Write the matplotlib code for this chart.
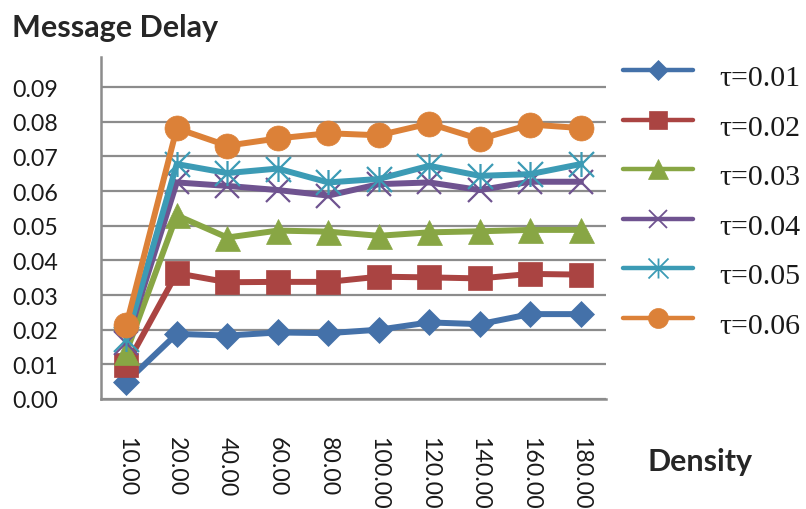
import matplotlib
matplotlib.use("Agg")
import matplotlib.pyplot as plt
from matplotlib.lines import Line2D
from matplotlib.path import Path
from matplotlib.transforms import ScaledTranslation

# ---- data -------------------------------------------------------------
density_labels = ["10.00", "20.00", "40.00", "60.00", "80.00",
                  "100.00", "120.00", "140.00", "160.00", "180.00"]
series_names = ["τ=0.01", "τ=0.02", "τ=0.03", "τ=0.04", "τ=0.05", "τ=0.06"]
tau_001 = [0.0049, 0.0188, 0.0183, 0.0192, 0.0190, 0.0200, 0.0221, 0.0216, 0.0245, 0.0245]
tau_002 = [0.0097, 0.0363, 0.0337, 0.0338, 0.0338, 0.0353, 0.0351, 0.0348, 0.0361, 0.0359]
tau_003 = [0.0135, 0.0530, 0.0466, 0.0486, 0.0483, 0.0471, 0.0481, 0.0484, 0.0488, 0.0488]
tau_004 = [0.0163, 0.0625, 0.0615, 0.0603, 0.0587, 0.0620, 0.0625, 0.0603, 0.0627, 0.0627]
tau_005 = [0.0172, 0.0678, 0.0652, 0.0665, 0.0625, 0.0635, 0.0673, 0.0644, 0.0649, 0.0678]
tau_006 = [0.0213, 0.0781, 0.0731, 0.0752, 0.0767, 0.0761, 0.0795, 0.0750, 0.0792, 0.0782]
y_ticks = [0.00, 0.01, 0.02, 0.03, 0.04, 0.05, 0.06, 0.07, 0.08, 0.09]

all_series = [tau_001, tau_002, tau_003, tau_004, tau_005, tau_006]

# ---- styling ----------------------------------------------------------
colors = ["#4471A9", "#AA4442", "#88A644", "#6F5390", "#3C9BB5", "#DC8138"]
star = Path([(0, -1), (0, 1), (-1, -1), (1, 1), (-1, 1), (1, -1)],
            [Path.MOVETO, Path.LINETO, Path.MOVETO, Path.LINETO,
             Path.MOVETO, Path.LINETO])
markers = ["D", "s", "^", "x", star, "o"]
msizes = [13, 17, 18, 17, 18, 18]
grid_grey = "#8C8C8C"
sans = "Lato"
serif = "Liberation Serif"

W, H = 806, 510
fig = plt.figure(figsize=(W / 100, H / 100), dpi=100)

def fx(px):
    return px / W

def fy(py):
    return 1 - py / H

ax_left, ax_right, ax_top, ax_bottom = 101, 606, 58, 400
ax = fig.add_axes([fx(ax_left), fy(ax_bottom),
                   fx(ax_right - ax_left), (ax_bottom - ax_top) / H])

xs = list(range(len(density_labels)))
for vals, c, m, ms in zip(all_series, colors, markers, msizes):
    thin = m in ("x",) or m is star
    ax.plot(xs, vals, color=c, lw=4.3, marker=m, markersize=ms,
            markerfacecolor=c, markeredgecolor=c,
            markeredgewidth=1.6 if thin else 0.5,
            solid_joinstyle="round", clip_on=False)

ax.set_xlim(-0.5, len(density_labels) - 0.5)
ax.set_ylim(0, 0.0987)
ax.set_yticks(y_ticks)
ax.set_yticklabels([f"{v:.2f}" for v in y_ticks], fontfamily=sans,
                   fontsize=16.7, color="#1a1a1a")
ax.set_xticks(xs)
ax.set_xticklabels(density_labels, rotation=-90, va="top", ha="center",
                   fontfamily=sans, fontsize=16.7, color="#1a1a1a")
shift = ScaledTranslation(13 / 100, 0, fig.dpi_scale_trans)
for lbl in ax.get_xticklabels():
    lbl.set_transform(lbl.get_transform() + shift)
ax.tick_params(axis="y", length=0, pad=31)
ax.tick_params(axis="x", length=0, pad=27)

ax.yaxis.grid(True, color=grid_grey, lw=1.6)
ax.set_axisbelow(True)
for side in ("top", "right"):
    ax.spines[side].set_visible(False)
for side in ("left", "bottom"):
    ax.spines[side].set_color(grid_grey)
    ax.spines[side].set_linewidth(1.8)

# ---- titles -----------------------------------------------------------
fig.text(fx(12), fy(37), "Message Delay", fontfamily=sans, fontweight="bold",
         fontsize=22, color="#262626", ha="left", va="baseline")
fig.text(fx(647), fy(471.5), "Density", fontfamily=sans, fontweight="bold",
         fontsize=21.9, color="#262626", ha="left", va="baseline")

# ---- legend -----------------------------------------------------------
row0, row_step = 71, 49.6
for i, (name, c, m, ms) in enumerate(zip(series_names, colors, markers, msizes)):
    y = row0 + i * row_step
    thin = m in ("x",) or m is star
    fig.add_artist(Line2D([fx(623), fx(693)], [fy(y), fy(y)],
                          transform=fig.transFigure, color=c, lw=3.2,
                          solid_capstyle="round"))
    fig.add_artist(Line2D([fx(658)], [fy(y)], transform=fig.transFigure,
                          color=c, marker=m, markersize=ms * 0.8,
                          markerfacecolor=c, markeredgecolor=c,
                          markeredgewidth=1.3 if thin else 0.5, lw=0))
    fig.text(fx(719), fy(y + 8), name, fontfamily=serif, fontsize=21.5,
             color="#1a1a1a", ha="left", va="center")

fig.savefig("out.png", dpi=100)
